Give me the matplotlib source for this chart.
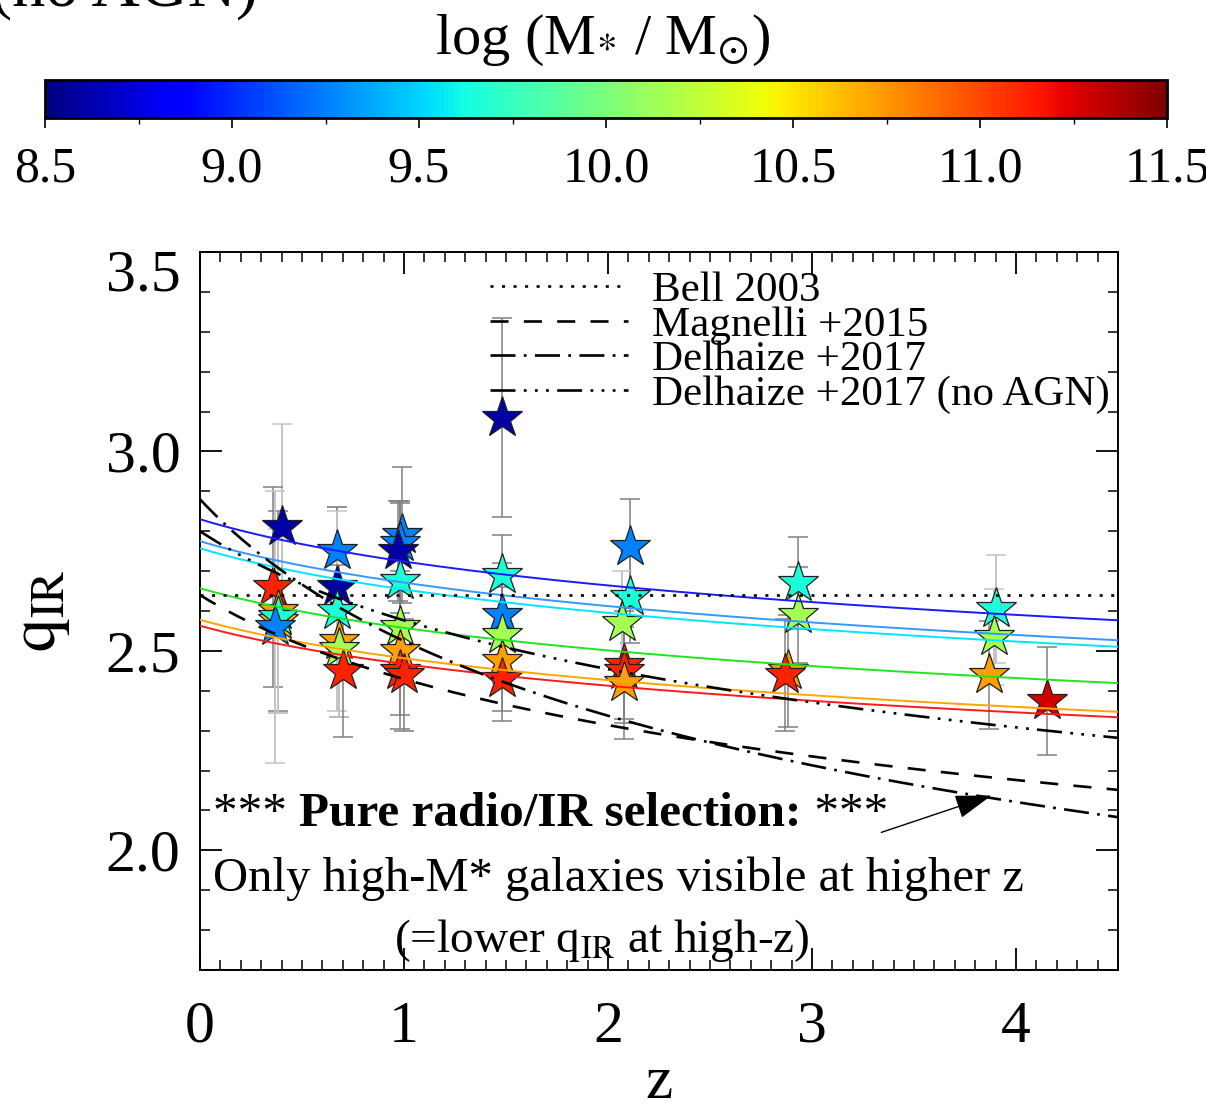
import numpy as np
import matplotlib
matplotlib.use("Agg")
import matplotlib.pyplot as plt
from matplotlib import cm, colors
from matplotlib.ticker import MultipleLocator
from matplotlib.transforms import ScaledTranslation

plt.rcParams['font.family'] = ['Liberation Serif', 'DejaVu Serif']
plt.rcParams['mathtext.fontset'] = 'stix'
plt.rcParams['lines.scale_dashes'] = False

# ---------------- data ----------------
z_pts = [0.40, 0.36, 0.38, 0.38, 0.38, 0.37,
         0.67, 0.67, 0.67, 0.68, 0.68, 0.70,
         0.99, 0.98, 0.97, 0.98, 0.98, 0.98, 0.98, 1.00,
         1.48, 1.48, 1.48, 1.48, 1.48, 1.48,
         2.11, 2.11, 2.07, 2.08, 2.08, 2.08,
         2.93, 2.93, 2.88, 2.87,
         3.90, 3.89, 3.87, 4.15]
q_pts = [2.81, 2.66, 2.60, 2.575, 2.585, 2.56,
         2.75, 2.66, 2.60, 2.525, 2.505, 2.45,
         2.79, 2.77, 2.75, 2.675, 2.56, 2.50, 2.45, 2.44,
         3.085, 2.69, 2.59, 2.54, 2.475, 2.43,
         2.76, 2.635, 2.57, 2.465, 2.45, 2.42,
         2.67, 2.59, 2.45, 2.44,
         2.605, 2.535, 2.44, 2.375]
q_err = [0.26, 0.25, 0.25, 0.23, 0.24, 0.34,
         0.11, 0.20, 0.25, 0.19, 0.17, 0.165,
         0.17, 0.10, 0.125, 0.20, 0.14, 0.16, 0.145, 0.14,
         0.25, 0.10, 0.13, 0.12, 0.125, 0.105,
         0.12, 0.115, 0.13, 0.135, 0.13, 0.14,
         0.115, 0.12, 0.14, 0.14,
         0.135, 0.12, 0.135, 0.135]
logM_pts = [8.6, 11.12, 10.72, 10.6, 9.65, 9.25,
            9.25, 8.6, 9.65, 10.72, 10.15, 11.12,
            9.25, 9.25, 8.6, 9.65, 10.15, 10.72, 11.12, 11.12,
            8.6, 9.65, 9.25, 10.15, 10.72, 11.12,
            9.25, 9.65, 10.15, 11.12, 11.12, 10.72,
            9.65, 10.15, 10.72, 11.12,
            9.65, 10.15, 10.72, 11.28]
err_light = [1, 0, 0, 1, 1, 1,
             1, 0, 1, 0, 1, 0,
             0, 0, 0, 0, 0, 0, 0, 0,
             0, 0, 0, 0, 0, 0,
             0, 0, 1, 0, 0, 0,
             0, 0, 0, 0,
             1, 1, 0, 0]

# model relations q = A (1+z)^B
bell_q = 2.64
magnelli_A, magnelli_B = 2.64, -0.12
delh_A, delh_B = 2.88, -0.19
delh_noagn_A, delh_noagn_B = 2.80, -0.12

# mass-dependent fits
fit_A = [2.83, 2.775, 2.757, 2.657, 2.578, 2.563]
fit_B = -0.055
fit_colors = ['#1a1aff', '#3399ff', '#00e6ff', '#1ee61e', '#ffa500', '#ff1a1a']

cb_min, cb_max = 8.5, 11.5
cb_ticks = [8.5, 9.0, 9.5, 10.0, 10.5, 11.0, 11.5]

# ---------------- figure ----------------
W, H = 1206, 1110
fig = plt.figure(figsize=(W/100, H/100), dpi=100)

# cut-off title fragment at very top
fig.text(258/W, 1 - 6/H, '(no AGN)', ha='right', va='baseline', fontsize=48)

# colorbar
cax = fig.add_axes([45/W, 1 - 118/H, 1122/W, 38/H])
norm = colors.Normalize(cb_min, cb_max)
sm = cm.ScalarMappable(norm=norm, cmap='jet')
cb = fig.colorbar(sm, cax=cax, orientation='horizontal', ticks=cb_ticks)
cb.ax.set_xticklabels(['%.1f' % t for t in cb_ticks])
cb.ax.xaxis.set_minor_locator(MultipleLocator(0.25))
cb.ax.tick_params(which='major', length=7, width=1.2, labelsize=36, pad=13)
cb.ax.tick_params(which='minor', length=4, width=1.0)
cb.outline.set_linewidth(2.0)
fig.text(603/W, 1 - 40/H, r'log (M$_{*}$ / M$_{\odot}$)', ha='center', va='center', fontsize=42)

# main axes
ax = fig.add_axes([200/W, 1 - 970/H, 918/W, 718/H])
ax.set_xlim(0, 4.5)
ax.set_ylim(1.7, 3.5)

cmap = plt.get_cmap('jet')
for z, q, e, m, lt in zip(z_pts, q_pts, q_err, logM_pts, err_light):
    ax.errorbar(z, q, yerr=e, fmt='none', ecolor='#c4c4c4' if lt else '#808080',
                elinewidth=1.4 if lt else 1.1, capsize=7, capthick=1.1, zorder=2)
for z, q, m in zip(z_pts, q_pts, logM_pts):
    ax.plot(z, q, marker='*', markersize=31, markerfacecolor=cmap(norm(m)),
            markeredgecolor='#202020', markeredgewidth=0.9, linestyle='none', zorder=3)

zz = np.linspace(0, 4.5, 300)
for A, c in zip(fit_A, fit_colors):
    ax.plot(zz, A * (1 + zz) ** fit_B, color=c, lw=1.4, zorder=4)

lw = 1.9
l1, = ax.plot(zz, np.full_like(zz, bell_q), color='k', lw=lw,
              linestyle=(0, (2.2, 6.1)), zorder=5, label='Bell 2003')
l2, = ax.plot(zz, magnelli_A * (1 + zz) ** magnelli_B, color='k', lw=lw,
              linestyle=(0, (13, 11)), zorder=5, label='Magnelli +2015')
l3, = ax.plot(zz, delh_A * (1 + zz) ** delh_B, color='k', lw=lw,
              linestyle=(0, (18, 6, 2, 6)), zorder=5, label='Delhaize +2017')
l4, = ax.plot(zz, delh_noagn_A * (1 + zz) ** delh_noagn_B, color='k', lw=lw,
              linestyle=(0, (18, 6, 2, 6, 2, 6, 2, 6)), zorder=5,
              label='Delhaize +2017 (no AGN)')

leg = ax.legend(handles=[l1, l2, l3, l4], loc='upper left',
                bbox_to_anchor=(0.316, 0.974), frameon=False, fontsize=31,
                handlelength=3.2, handletextpad=0.55, labelspacing=-0.1,
                borderpad=0, borderaxespad=0)

# annotation block
y1 = 2.09
fs_b = 35.5
t1 = ax.text(0.064, y1, '*** ', fontsize=fs_b, va='center', ha='left', zorder=6)
fig.canvas.draw()
r = fig.canvas.get_renderer()
inv = ax.transData.inverted()
bb = t1.get_window_extent(r)
xb = inv.transform((bb.x1, bb.y0))[0]
t2 = ax.text(xb, y1, 'Pure radio/IR selection:', fontsize=fs_b, fontweight='bold',
             va='center', ha='left', zorder=6)
bb2 = t2.get_window_extent(r)
xc = inv.transform((bb2.x1, bb2.y0))[0]
ax.text(xc, y1, ' ***', fontsize=fs_b, va='center', ha='left', zorder=6)

ax.text(0.064, 1.93, 'Only high-M* galaxies visible at higher z', fontsize=35,
        va='center', ha='left', zorder=6)
ax.text(1.97, 1.775, r'(=lower q$_{\mathrm{IR}}$ at high-z)', fontsize=34,
        va='center', ha='center', zorder=6)
ax.annotate('', xy=(3.88, 2.1375), xytext=(3.34, 2.045),
            arrowprops=dict(arrowstyle='-|>,head_length=2.3,head_width=0.75',
                            color='k', lw=1.0, shrinkA=0, shrinkB=0), zorder=6)

ax.xaxis.set_major_locator(MultipleLocator(1))
ax.xaxis.set_minor_locator(MultipleLocator(0.1))
ax.yaxis.set_major_locator(MultipleLocator(0.5))
ax.yaxis.set_minor_locator(MultipleLocator(0.1))
ax.tick_params(which='both', direction='in', top=True, right=True)
ax.tick_params(which='major', length=16, width=1.3, labelsize=43)
ax.tick_params(axis='x', which='major', pad=22)
ax.tick_params(axis='y', which='major', pad=14)
ax.tick_params(which='minor', length=7, width=1.1)
for s in ax.spines.values():
    s.set_linewidth(1.4)
ax.set_xlabel('z', fontsize=44, labelpad=1)
ax.set_ylabel(r'$\mathrm{q_{IR}}$', fontsize=48, labelpad=24)

# nudge the top y tick label (3.5) down as in the reference
fig.canvas.draw()
for tk in ax.yaxis.get_major_ticks():
    if abs(tk.get_loc() - 3.5) < 1e-6:
        lab = tk.label1
        lab.set_transform(lab.get_transform() +
                          ScaledTranslation(0, -18/100, fig.dpi_scale_trans))

fig.savefig('out.png', dpi=100)
